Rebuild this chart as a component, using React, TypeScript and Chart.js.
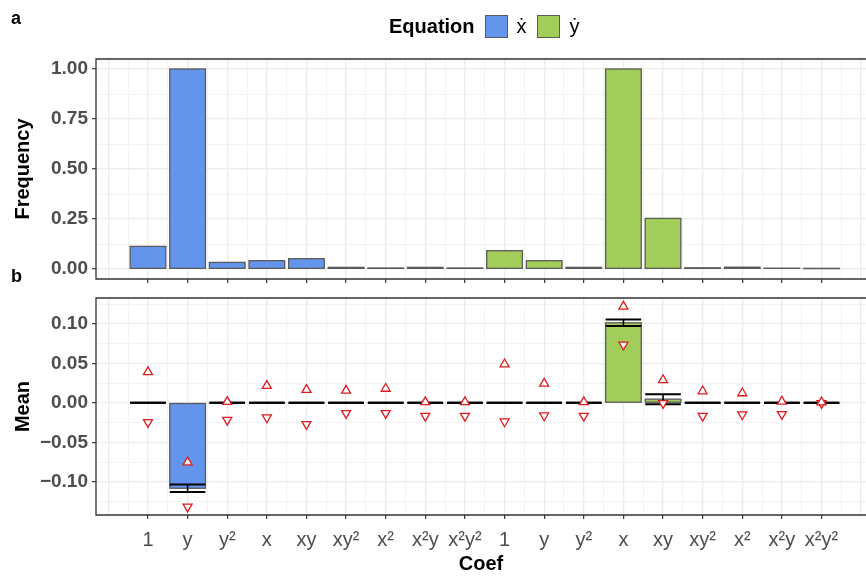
import React, { useEffect, useRef } from 'react';
import { Chart, registerables } from 'chart.js';
Chart.register(...registerables);

// ---------- data ----------
const coefLabels = ['1', 'y', 'y²', 'x', 'xy', 'xy²', 'x²', 'x²y', 'x²y²'];

const xdotFreq = [0.113, 1.0, 0.033, 0.0415, 0.0515, 0.008, 0.005, 0.008, 0.005];
const ydotFreq = [0.0915, 0.0415, 0.008, 1.0, 0.253, 0.006, 0.009, 0.004, 0.002];

const xdotMean = [0, -0.1082, 0, 0, 0, 0, 0, 0, 0];
const xdotSE = [0, 0.0047, 0, 0, 0, 0, 0, 0, 0];
const ydotMean = [0, 0, 0, 0.1015, 0.0047, 0, 0, 0, 0];
const ydotSE = [0, 0, 0, 0.0042, 0.0063, 0, 0, 0, 0];

const xdotUpper = [0.039, -0.0753, 0.0013, 0.0216, 0.0165, 0.0156, 0.018, 0.001, 0.001];
const xdotLower = [-0.0245, -0.1316, -0.0216, -0.0186, -0.027, -0.013, -0.013, -0.0165, -0.0165];
const ydotUpper = [0.049, 0.0245, 0.001, 0.122, 0.029, 0.0148, 0.0123, 0.0017, 0.0008];
const ydotLower = [-0.0237, -0.0161, -0.0165, 0.0736, -0.0004, -0.0165, -0.0148, -0.0144, -0.0004];

const freqTicks = [0, 0.25, 0.5, 0.75, 1.0];
const meanTicks = [-0.1, -0.05, 0, 0.05, 0.1];

// ---------- styling ----------
const BLUE = '#6495ED';
const GREEN = '#A2CD5A';
const BAR_BORDER = '#5a5a5a';
const RED = '#E01A1F';
const FONT = "'Liberation Sans', Arial, sans-serif";
const W = 866;
const X_MIN = -0.312;
const X_MAX = 19.123;

const allLabels = [...coefLabels, ...coefLabels];
const xPosX = coefLabels.map((_, i) => i + 1);
const xPosY = coefLabels.map((_, i) => i + 10);

const near = (a: number, b: number) => Math.abs(a - b) < 1e-9;
const isInt = (v: number) => near(v, Math.round(v));

const panelBorder = {
  id: 'panelBorder',
  afterDatasetsDraw(chart: any) {
    const { ctx, chartArea: a } = chart;
    ctx.save();
    ctx.strokeStyle = '#333333';
    ctx.lineWidth = 1.3;
    ctx.beginPath();
    ctx.moveTo(W + 10, a.top);
    ctx.lineTo(a.left, a.top);
    ctx.lineTo(a.left, a.bottom);
    ctx.lineTo(W + 10, a.bottom);
    ctx.stroke();
    ctx.restore();
  },
};

// strokes bar outlines centred on the bar edges (as ggplot does), right after each bar dataset is drawn
const barOutline = {
  id: 'barOutline',
  afterDatasetDraw(chart: any, args: any) {
    const ds = chart.data.datasets[args.index];
    if (!ds.outline) return;
    const { ctx } = chart;
    ctx.save();
    ctx.strokeStyle = BAR_BORDER;
    ctx.lineWidth = 1.3;
    for (const el of args.meta.data) {
      const p = el.getProps(['x', 'y', 'base', 'width'], true);
      const top = Math.min(p.y, p.base);
      const h = Math.abs(p.base - p.y);
      ctx.strokeRect(p.x - p.width / 2, top, p.width, h);
    }
    ctx.restore();
  },
};

function xScale(showLabels: boolean, height: number) {
  const vals: number[] = [];
  for (let i = 0; i <= 38; i++) vals.push(i / 2);
  return {
    type: 'linear',
    min: X_MIN,
    max: X_MAX,
    offset: false,
    afterBuildTicks: (s: any) => {
      s.ticks = vals.map((v) => ({ value: v }));
    },
    afterFit: (s: any) => {
      s.height = height;
      s.paddingLeft = 0;
      s.paddingRight = 0;
      s.paddingTop = 0;
      s.paddingBottom = 0;
    },
    border: { display: false },
    grid: {
      offset: false,
      drawTicks: true,
      tickLength: 4,
      color: (c: any) => (c.tick && isInt(c.tick.value) ? '#EBEBEB' : '#F2F2F2'),
      lineWidth: (c: any) => (c.tick && isInt(c.tick.value) ? 1.3 : 0.9),
      tickColor: (c: any) => {
        const v = c.tick ? c.tick.value : -1;
        return isInt(v) && v >= 1 && v <= 18 ? '#333333' : 'rgba(0,0,0,0)';
      },
      tickWidth: 1.2,
    },
    ticks: {
      autoSkip: false,
      maxRotation: 0,
      minRotation: 0,
      padding: 9,
      color: '#4D4D4D',
      font: { family: FONT, size: 20 },
      callback: (v: number) => {
        if (!showLabels) return '';
        if (isInt(v) && v >= 1 && v <= 18) return allLabels[Math.round(v) - 1];
        return '';
      },
    },
    title: showLabels
      ? {
          display: true,
          text: 'Coef',
          color: '#000',
          font: { family: FONT, size: 20, weight: 'bold', lineHeight: 1.2 },
          padding: { top: 0, bottom: 1 },
        }
      : { display: false },
  };
}

function yScale(min: number, max: number, step: number, majors: number[], title: string, fmt: (v: number) => string) {
  const vals: number[] = [];
  const n0 = Math.ceil(min / step - 1e-9);
  const n1 = Math.floor(max / step + 1e-9);
  for (let i = n0; i <= n1; i++) vals.push(+(i * step).toFixed(6));
  const isMajor = (v: number) => majors.some((m) => near(m, v));
  return {
    type: 'linear',
    min,
    max,
    afterBuildTicks: (s: any) => {
      s.ticks = vals.map((v) => ({ value: v }));
    },
    afterFit: (s: any) => {
      s.width = 96;
      s.paddingLeft = 0;
      s.paddingRight = 0;
      s.paddingTop = 0;
      s.paddingBottom = 0;
    },
    border: { display: false },
    grid: {
      tickLength: 4,
      color: (c: any) => (c.tick && isMajor(c.tick.value) ? '#EBEBEB' : '#F2F2F2'),
      lineWidth: (c: any) => (c.tick && isMajor(c.tick.value) ? 1.3 : 0.9),
      tickColor: (c: any) => (c.tick && isMajor(c.tick.value) ? '#333333' : 'rgba(0,0,0,0)'),
      tickWidth: 1.2,
    },
    ticks: {
      autoSkip: false,
      padding: 4,
      color: '#4D4D4D',
      font: { family: FONT, size: 19, weight: 'bold' },
      callback: (v: number) => (isMajor(v) ? fmt(v) : ''),
    },
    title: {
      display: true,
      text: title,
      color: '#000',
      font: { family: FONT, size: 20, weight: 'bold', lineHeight: 1.2 },
      padding: { top: 11, bottom: 0 },
    },
  };
}

const fmtMean = (v: number) => (v < -1e-9 ? '−' + Math.abs(v).toFixed(2) : Math.abs(v).toFixed(2));

export default function App() {
  const topRef = useRef<HTMLCanvasElement>(null);
  const botRef = useRef<HTMLCanvasElement>(null);

  useEffect(() => {
    // ticks are every half unit, so the bar ruler is half a category: 1.8 * 0.5 = 0.9 of a category
    const barCommon = {
      grouped: false,
      barPercentage: 1.8,
      categoryPercentage: 1,
      borderWidth: 0,
      outline: true,
    };

    const top = new Chart(topRef.current as HTMLCanvasElement, {
      type: 'bar',
      data: {
        datasets: [
          { ...barCommon, label: 'ẋ', backgroundColor: BLUE, data: xdotFreq.map((v, i) => ({ x: xPosX[i], y: v })) },
          { ...barCommon, label: 'ẏ', backgroundColor: GREEN, data: ydotFreq.map((v, i) => ({ x: xPosY[i], y: v })) },
        ] as any,
      },
      options: {
        responsive: false,
        animation: false,
        events: [],
        layout: { autoPadding: false, padding: { top: 59, left: 0, right: 0, bottom: 0 } },
        plugins: { legend: { display: false }, tooltip: { enabled: false } },
        scales: {
          x: xScale(false, 11) as any,
          y: yScale(-0.05, 1.05, 0.125, freqTicks, 'Frequency', (v) => v.toFixed(2)) as any,
        },
      },
      plugins: [barOutline, panelBorder],
    });

    const capDs = (pos: number[], mean: number[], se: number[]) => ({
      type: 'scatter',
      order: 1,
      data: [
        ...pos.map((x, i) => ({ x, y: mean[i] + se[i] })),
        ...pos.map((x, i) => ({ x, y: mean[i] - se[i] })),
      ],
      pointStyle: 'line',
      pointRadius: 17.8,
      pointBorderColor: '#000',
      pointBorderWidth: 2,
      pointBackgroundColor: '#000',
    });
    const whiskerDs = (pos: number[], mean: number[], se: number[]) => ({
      type: 'bar',
      order: 2,
      grouped: false,
      maxBarThickness: 1.6,
      backgroundColor: '#000',
      borderWidth: 0,
      data: pos.map((x, i) => ({ x, y: [mean[i] - se[i], mean[i] + se[i]] })),
    });
    const triDs = (pos: number[], vals: number[], rot: number) => ({
      type: 'scatter',
      order: 0,
      data: pos.map((x, i) => ({ x, y: vals[i] })),
      pointStyle: 'triangle',
      pointRotation: rot,
      pointRadius: 5.2,
      pointBorderColor: RED,
      pointBorderWidth: 1.3,
      pointBackgroundColor: '#ffffff',
    });

    const bot = new Chart(botRef.current as HTMLCanvasElement, {
      type: 'bar',
      data: {
        datasets: [
          triDs(xPosX, xdotUpper, 0),
          triDs(xPosX, xdotLower, 180),
          triDs(xPosY, ydotUpper, 0),
          triDs(xPosY, ydotLower, 180),
          capDs(xPosX, xdotMean, xdotSE),
          capDs(xPosY, ydotMean, ydotSE),
          whiskerDs(xPosX, xdotMean, xdotSE),
          whiskerDs(xPosY, ydotMean, ydotSE),
          { ...barCommon, order: 3, backgroundColor: BLUE, data: xdotMean.map((v, i) => ({ x: xPosX[i], y: v })) },
          { ...barCommon, order: 3, backgroundColor: GREEN, data: ydotMean.map((v, i) => ({ x: xPosY[i], y: v })) },
        ] as any,
      },
      options: {
        responsive: false,
        animation: false,
        events: [],
        layout: { autoPadding: false, padding: { top: 8, left: 0, right: 0, bottom: 0 } },
        plugins: { legend: { display: false }, tooltip: { enabled: false } },
        scales: {
          x: xScale(true, 62) as any,
          y: yScale(-0.1421, 0.1329, 0.025, meanTicks, 'Mean', fmtMean) as any,
        },
      },
      plugins: [barOutline, panelBorder],
    });

    return () => {
      top.destroy();
      bot.destroy();
    };
  }, []);

  const box = (color: string) => ({
    width: 23,
    height: 23,
    boxSizing: 'border-box' as const,
    background: color,
    border: '1.3px solid ' + BAR_BORDER,
  });

  return (
    <div
      style={{
        position: 'absolute',
        left: 0,
        top: 0,
        width: W,
        height: 577,
        background: '#fff',
        overflow: 'hidden',
        fontFamily: FONT,
      }}
    >
      <canvas ref={topRef} width={W} height={290} style={{ position: 'absolute', left: 0, top: 0 }} />
      <canvas ref={botRef} width={W} height={287} style={{ position: 'absolute', left: 0, top: 290 }} />
      <div style={{ position: 'absolute', left: 11, top: 8, fontWeight: 'bold', fontSize: 18, lineHeight: '20px' }}>a</div>
      <div style={{ position: 'absolute', left: 11, top: 266, fontWeight: 'bold', fontSize: 18, lineHeight: '20px' }}>b</div>
      <div
        style={{
          position: 'absolute',
          left: 389,
          top: 15,
          height: 23,
          display: 'flex',
          alignItems: 'center',
          fontSize: 20,
          whiteSpace: 'nowrap',
        }}
      >
        <span style={{ fontWeight: 'bold', marginRight: 10 }}>Equation</span>
        <div style={box(BLUE)} />
        <span style={{ margin: '0 10px 0 9px' }}>ẋ</span>
        <div style={box(GREEN)} />
        <span style={{ marginLeft: 10 }}>ẏ</span>
      </div>
    </div>
  );
}
